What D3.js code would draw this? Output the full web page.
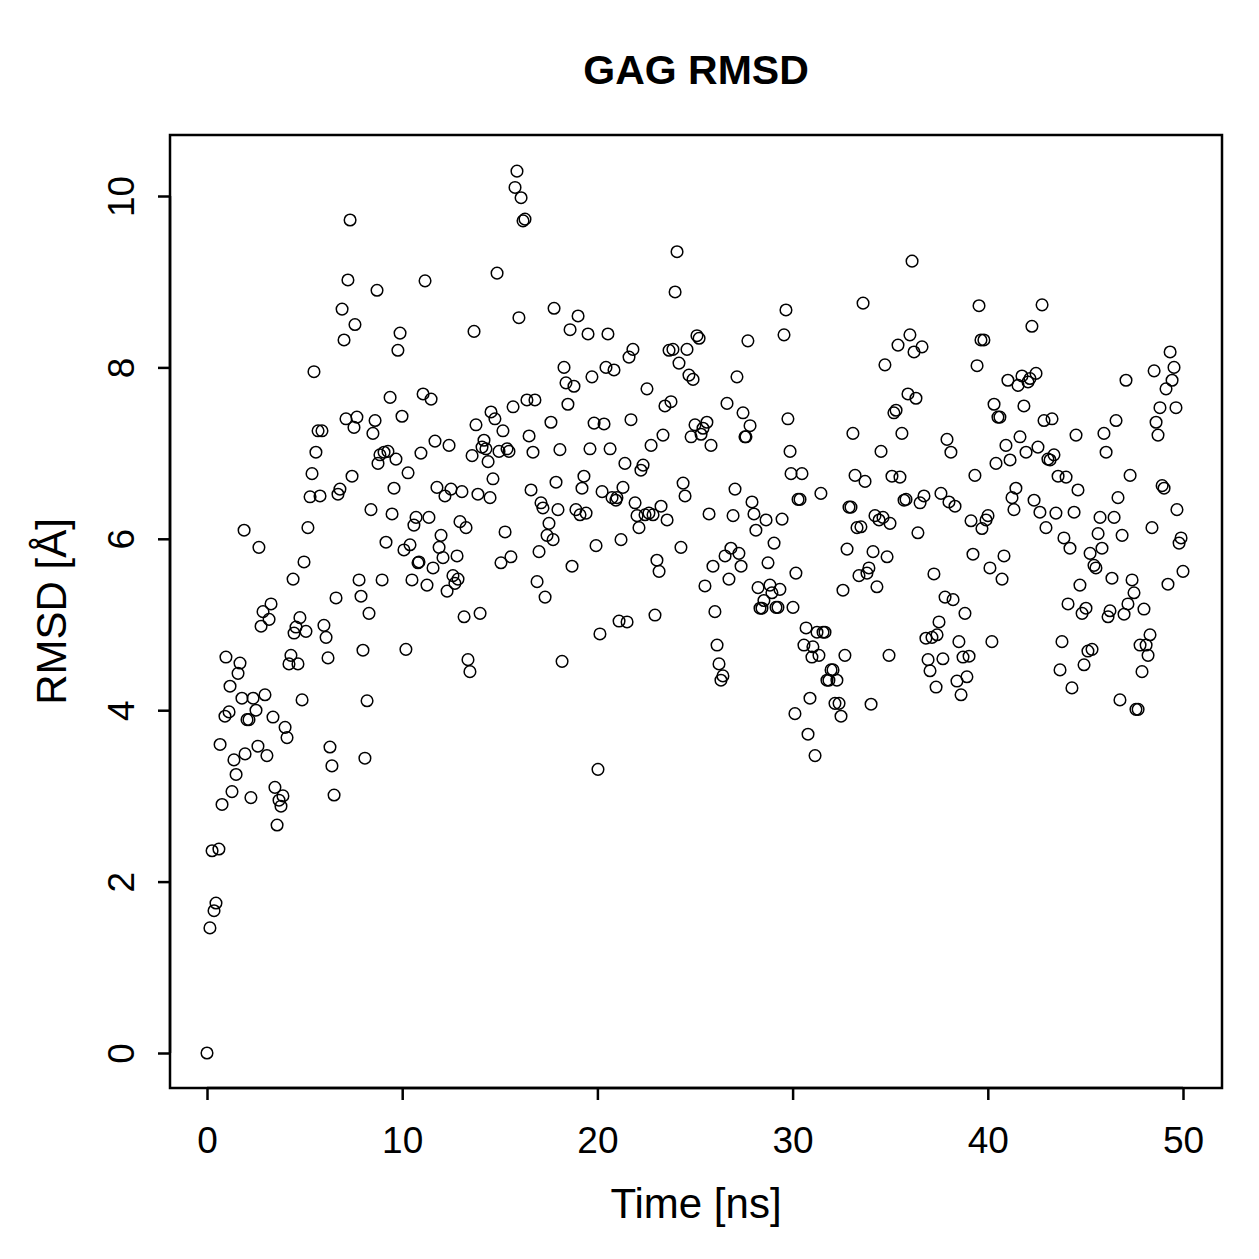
<!DOCTYPE html>
<html>
<head>
<meta charset="utf-8">
<script src="https://cdn.jsdelivr.net/npm/d3@7"></script>
<style>
  body { margin: 0; background: #fff; }
  text { font-family: "Liberation Sans", Arial, Helvetica, sans-serif; }
</style>
</head>
<body>
<div id="chart"></div>
<script>
// time (ns) and RMSD (Å)
const time = [
  0,0.15,0.26,0.36,0.46,0.61,0.67,0.77,0.92,0.97,1.13,1.18,1.28,1.38,1.49,1.59,1.69,1.79,1.90,1.95,
  2.05,2.15,2.25,2.36,2.51,2.61,2.66,2.77,2.87,2.97,3.07,3.18,3.28,3.38,3.48,3.59,3.69,3.79,3.89,4.00,
  4.10,4.20,4.30,4.41,4.46,4.56,4.66,4.76,4.87,4.97,5.07,5.17,5.28,5.38,5.48,5.58,5.69,5.79,5.89,5.99,
  6.10,6.20,6.30,6.40,6.51,6.61,6.71,6.81,6.92,7.02,7.12,7.22,7.33,7.43,7.53,7.58,7.68,7.79,7.89,7.99,
  8.09,8.20,8.30,8.40,8.50,8.61,8.71,8.76,8.86,8.97,9.07,9.17,9.27,9.38,9.48,9.58,9.68,9.78,9.89,9.99,
  10.09,10.19,10.30,10.40,10.50,10.60,10.71,10.81,10.86,10.96,11.07,11.17,11.27,11.37,11.48,11.58,11.68,11.78,11.89,11.99,
  12.09,12.19,12.30,12.40,12.50,12.60,12.70,12.81,12.86,12.96,13.06,13.17,13.27,13.37,13.47,13.58,13.68,13.78,13.88,13.99,
  14.09,14.19,14.29,14.40,14.50,14.55,14.65,14.75,14.86,14.96,15.06,15.16,15.27,15.37,15.47,15.57,15.68,15.78,15.88,15.98,
  16.09,16.19,16.29,16.39,16.50,16.60,16.70,16.80,16.91,17.01,17.11,17.21,17.32,17.42,17.52,17.62,17.73,17.78,17.88,17.98,
  18.08,18.19,18.29,18.39,18.49,18.60,18.70,18.80,18.90,19.01,19.11,19.21,19.31,19.42,19.52,19.62,19.72,19.83,19.93,20.03,
  20.13,20.24,20.34,20.44,20.54,20.65,20.75,20.85,20.95,21.00,21.11,21.21,21.31,21.41,21.52,21.62,21.72,21.82,21.93,22.03,
  22.13,22.23,22.34,22.44,22.54,22.64,22.75,22.85,22.95,23.05,23.16,23.26,23.36,23.46,23.57,23.67,23.77,23.87,23.98,24.08,
  24.18,24.28,24.39,24.49,24.59,24.69,24.80,24.90,25.00,25.10,25.21,25.31,25.41,25.51,25.61,25.72,25.82,25.92,26.02,26.13,
  26.23,26.33,26.43,26.54,26.64,26.74,26.84,26.95,27.05,27.15,27.25,27.36,27.46,27.56,27.61,27.71,27.82,27.92,28.02,28.12,
  28.23,28.33,28.43,28.53,28.64,28.74,28.84,28.94,29.05,29.15,29.25,29.35,29.46,29.56,29.66,29.76,29.87,29.92,30.02,30.12,
  30.17,30.28,30.38,30.48,30.58,30.69,30.79,30.89,30.99,31.04,31.15,31.25,31.35,31.45,31.56,31.66,31.76,31.86,31.97,32.07,
  32.17,32.27,32.38,32.48,32.58,32.68,32.79,32.89,32.99,33.09,33.20,33.30,33.40,33.50,33.61,33.71,33.81,33.91,34.02,34.12,
  34.22,34.32,34.43,34.53,34.63,34.73,34.84,34.94,34.99,35.09,35.19,35.30,35.40,35.50,35.60,35.71,35.81,35.91,36.01,36.12,
  36.22,36.32,36.42,36.53,36.63,36.73,36.83,36.94,37.04,37.14,37.24,37.35,37.40,37.50,37.60,37.70,37.81,37.91,38.01,38.11,
  38.22,38.32,38.42,38.52,38.63,38.73,38.83,38.93,39.04,39.14,39.24,39.34,39.45,39.55,39.65,39.70,39.80,39.91,40.01,40.11,
  40.21,40.32,40.42,40.52,40.62,40.73,40.83,40.93,41.03,41.14,41.24,41.34,41.44,41.55,41.65,41.75,41.85,41.96,42.06,42.16,
  42.26,42.37,42.47,42.57,42.67,42.78,42.88,42.98,43.08,43.19,43.29,43.39,43.49,43.60,43.70,43.80,43.90,44.01,44.11,44.21,
  44.31,44.42,44.52,44.62,44.72,44.83,44.93,45.03,45.13,45.24,45.34,45.44,45.54,45.65,45.75,45.85,45.95,46.06,46.16,46.26,
  46.36,46.47,46.57,46.67,46.77,46.88,46.98,47.08,47.18,47.29,47.39,47.49,47.59,47.70,47.80,47.90,48.00,48.11,48.21,48.31,
  48.41,48.52,48.62,48.72,48.82,48.93,49.03,49.13,49.23,49.34,49.44,49.54,49.64,49.69,49.80,49.90,50.00
];

const rmsd = [
  0,1.46,2.36,1.66,1.75,2.38,3.6,2.9,3.93,4.62,3.98,4.28,3.05,3.42,3.25,4.43,4.55,4.14,6.1,3.49,
  3.89,3.89,2.98,4.14,4.0,3.58,5.9,4.98,5.15,4.18,3.47,5.06,5.24,3.92,3.1,2.66,2.95,2.88,3.0,3.8,
  3.68,4.54,4.64,5.53,4.9,4.97,4.54,5.08,4.12,5.73,4.92,6.13,6.49,6.76,7.95,7.01,7.26,6.5,7.26,4.99,
  4.85,4.61,3.57,3.35,3.01,5.31,6.52,6.58,8.68,8.32,7.4,9.02,9.72,6.73,7.3,8.5,7.42,5.52,5.33,4.7,
  3.44,4.11,5.13,6.34,7.23,7.38,8.9,6.88,6.98,5.52,7.01,5.96,7.02,7.65,6.29,6.59,6.93,8.2,8.4,7.43,
  5.87,4.71,6.77,5.93,5.52,6.16,6.25,5.72,5.73,7.0,7.69,9.01,5.46,6.25,7.63,5.66,7.14,6.6,5.9,6.04,
  5.78,6.5,5.39,7.09,6.58,5.57,5.48,5.8,5.53,6.2,6.55,5.09,6.13,4.59,4.45,6.97,8.42,7.33,6.52,5.13,
  7.07,7.15,7.05,6.9,6.48,7.48,6.7,7.4,9.1,7.02,5.72,7.26,6.08,7.05,7.02,5.79,7.54,10.1,10.29,8.58,
  9.98,9.71,9.73,7.62,7.2,6.57,7.01,7.62,5.5,5.85,6.42,6.36,5.32,6.04,6.18,7.36,5.99,8.69,6.66,6.34,
  7.04,4.57,8.0,7.82,7.57,8.44,5.68,7.78,6.34,8.6,6.28,6.59,6.73,6.3,8.39,7.05,7.89,7.35,5.92,3.31,
  4.89,6.55,7.34,8.0,8.39,7.05,6.48,7.97,6.45,6.48,5.04,5.99,6.6,6.88,5.03,8.12,7.39,8.21,6.42,6.27,
  6.13,6.8,6.86,6.28,7.75,6.3,7.09,6.28,5.11,5.75,5.62,6.38,7.21,7.55,6.22,8.2,7.6,8.21,8.88,9.35,
  8.05,5.9,6.65,6.5,8.21,7.91,7.19,7.86,7.33,8.37,8.34,7.22,7.29,5.45,7.36,6.29,7.09,5.68,5.15,4.76,
  4.54,4.35,4.4,5.8,7.58,5.53,5.89,6.27,6.58,7.89,5.83,5.68,7.47,7.19,7.19,8.31,7.32,6.43,6.29,6.1,
  5.43,5.19,5.19,5.28,6.22,5.72,5.46,5.37,5.95,5.2,5.2,5.41,6.23,8.38,8.67,7.4,7.02,6.76,5.2,3.96,
  5.6,6.46,6.46,6.76,4.76,4.96,3.72,4.14,4.62,4.74,3.47,4.91,4.64,6.53,4.91,4.91,4.35,4.35,4.47,4.47,
  4.08,4.35,4.08,3.93,5.4,4.64,5.88,6.37,6.37,7.23,6.74,6.13,5.57,6.14,8.75,6.67,5.6,5.66,4.07,5.85,
  6.27,5.44,6.22,7.02,6.25,8.03,5.79,4.64,6.18,6.73,7.47,7.5,8.26,6.72,7.23,6.45,6.46,7.69,8.38,9.24,
  8.18,7.64,6.07,6.42,8.24,6.5,4.84,4.59,4.46,4.85,5.59,4.27,4.88,5.03,6.53,4.6,5.32,7.16,6.43,7.01,
  5.29,6.38,4.34,4.8,4.18,4.62,5.13,4.39,4.63,6.21,5.82,6.74,8.02,8.72,8.32,6.12,8.32,6.22,6.27,5.66,
  4.8,7.57,6.88,7.42,7.42,5.53,5.8,7.09,7.85,6.92,6.48,6.34,6.59,7.79,7.19,7.9,7.55,7.01,7.83,7.87,
  8.48,6.45,7.93,7.07,6.31,8.73,7.38,6.13,6.93,6.92,7.4,6.98,6.3,6.73,4.47,4.8,6.01,6.72,5.24,5.89,
  4.26,6.31,7.21,6.57,5.46,5.13,4.53,5.19,4.69,5.83,4.71,5.69,5.66,6.06,6.25,5.89,7.23,7.01,5.09,5.16,
  5.54,6.25,7.38,6.48,4.12,6.04,5.12,7.85,5.24,6.74,5.52,5.37,4.01,4.01,4.76,4.45,5.18,4.76,4.64,4.88,
  6.13,7.96,7.36,7.21,7.53,6.62,6.59,7.75,5.47,8.18,7.85,8.0,7.53,6.34,5.95,6.01,5.62
];

const xTicks = [0, 10, 20, 30, 40, 50];
const yTicks = [0, 2, 4, 6, 8, 10];

const W = 1259, H = 1259;
// plot box, as in the R device
const box = { left: 170, right: 1222, top: 135, bottom: 1088 };
const font = '"Liberation Sans", Arial, sans-serif';

const svg = d3.select('#chart').append('svg')
  .attr('width', W)
  .attr('height', H);

svg.append('rect').attr('width', W).attr('height', H).attr('fill', '#fff');

const x = d3.scaleLinear().domain([0, 50]).range([207, 1183]);
const y = d3.scaleLinear().domain([0, 10]).range([1053, 196]);

const points = time.map((t, i) => ({ t, v: rmsd[i] }));

svg.append('g')
  .selectAll('circle')
  .data(points)
  .enter()
  .append('circle')
  .attr('cx', d => x(d.t))
  .attr('cy', d => y(d.v))
  .attr('r', 5.8)
  .attr('fill', 'none')
  .attr('stroke', '#000')
  .attr('stroke-width', 1.5);

// box
svg.append('rect')
  .attr('x', box.left)
  .attr('y', box.top)
  .attr('width', box.right - box.left)
  .attr('height', box.bottom - box.top)
  .attr('fill', 'none')
  .attr('stroke', '#000')
  .attr('stroke-width', 2.5);

// x axis
const xAxis = d3.axisBottom(x).tickValues(xTicks).tickSize(12).tickPadding(27).tickFormat(d3.format('d'));
const gx = svg.append('g')
  .attr('transform', `translate(0,${box.bottom})`)
  .call(xAxis);
gx.select('.domain').attr('d', `M${x(0)},0H${x(50)}`).attr('stroke-width', 2.5);
gx.selectAll('.tick line').attr('stroke-width', 2.5);
gx.selectAll('text').attr('font-size', 37).attr('font-family', font).attr('fill', '#000');

// y axis, labels rotated as in R
const yAxis = d3.axisLeft(y).tickValues(yTicks).tickSize(12).tickPadding(0).tickFormat(d3.format('d'));
const gy = svg.append('g')
  .attr('transform', `translate(${box.left},0)`)
  .call(yAxis);
gy.select('.domain').attr('d', `M0,${y(0)}V${y(10)}`).attr('stroke-width', 2.5);
gy.selectAll('.tick line').attr('stroke-width', 2.5);
gy.selectAll('text')
  .attr('x', null).attr('dy', null)
  .attr('transform', 'translate(-36,0) rotate(-90)')
  .attr('text-anchor', 'middle')
  .attr('y', 0)
  .attr('font-size', 37)
  .attr('font-family', font)
  .attr('fill', '#000');

// titles
svg.append('text')
  .attr('x', (box.left + box.right) / 2)
  .attr('y', 84)
  .attr('text-anchor', 'middle')
  .attr('font-size', 41)
  .attr('font-weight', 'bold')
  .text('GAG RMSD');

svg.append('text')
  .attr('x', (box.left + box.right) / 2)
  .attr('y', 1218)
  .attr('text-anchor', 'middle')
  .attr('font-size', 42)
  .text('Time [ns]');

svg.append('text')
  .attr('transform', `translate(66,${(box.top + box.bottom) / 2}) rotate(-90)`)
  .attr('text-anchor', 'middle')
  .attr('font-size', 42)
  .text('RMSD [Å]');
</script>
</body>
</html>
